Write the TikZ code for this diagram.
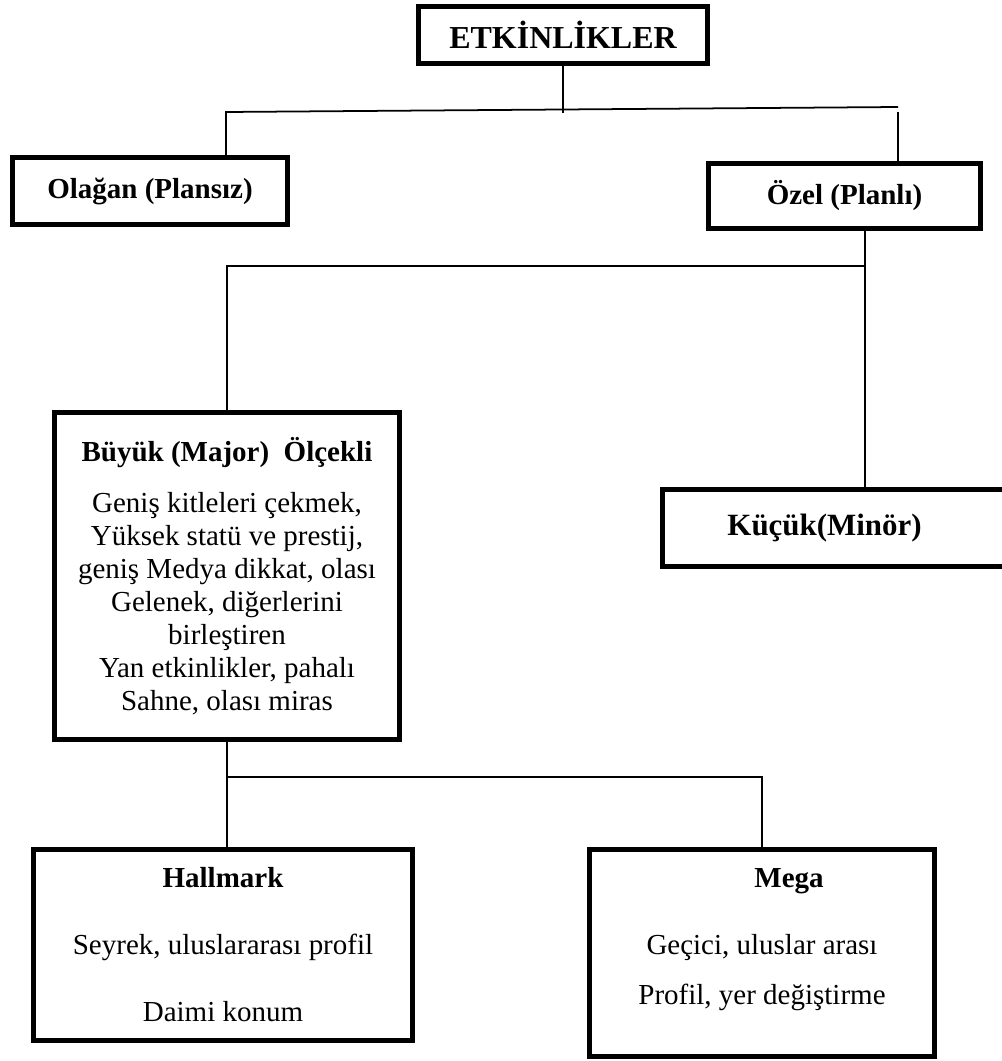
\documentclass[tikz,border=0pt]{standalone}
\usepackage{fontspec}
\setmainfont{Liberation Serif}

\tikzset{
  kutu/.style={draw, line width=0.1cm, inner sep=0pt, align=center,
    font=\fontsize{16.5}{18.8}\selectfont},
  baslik/.style={font=\bfseries\fontsize{16.5}{18.8}\selectfont},
  hat/.style={line width=1pt},
}

\begin{document}
\begin{tikzpicture}[x=0.02cm, y=-0.02cm]
\useasboundingbox (0,0) rectangle (1001,1061);

% kutular
\node[kutu, baslik, font=\bfseries\fontsize{18.2}{20}\selectfont,
  minimum width=5.78cm, minimum height=1.14cm] (etk) at (563,35) {ETKİNLİKLER};
\node[kutu, baslik, minimum width=5.52cm, minimum height=1.34cm] (olagan) at (150,191) {Olağan (Plansız)};
\node[kutu, baslik, minimum width=5.44cm, minimum height=1.30cm] (ozel) at (844.5,196) {Özel (Planlı)};
\node[kutu, minimum width=6.9cm, minimum height=6.54cm] (buyuk) at (227,576)
  {\textbf{Büyük (Major)\ \ Ölçekli}\\[0.36cm]
   Geniş kitleleri çekmek,\\ Yüksek statü ve prestij,\\ geniş Medya dikkat, olası\\
   Gelenek, diğerlerini\\ birleştiren\\ Yan etkinlikler, pahalı\\ Sahne, olası miras};
\node[kutu, baslik, font=\bfseries\fontsize{17.6}{20}\selectfont,
  minimum width=7.2cm, minimum height=1.54cm] (kucuk) at (842.5,528) {Küçük(Minör)\hspace*{0.72cm}};
\node[kutu, minimum width=7.58cm, minimum height=3.82cm] (hallmark) at (223,945)
  {\textbf{Hallmark}\\[0.68cm] Seyrek, uluslararası profil\\[0.68cm] Daimi konum};
\node[kutu, minimum width=6.89cm, minimum height=4.14cm] (mega) at (762,953)
  {\hspace*{1.08cm}\textbf{Mega}\\[0.68cm] Geçici, uluslar arası\\[0.34cm] Profil, yer değiştirme\\ \mbox{}};

% baglantilar
\coordinate (solUst) at (226,112);
\coordinate (sagUst) at (898,107);
\draw[hat] (etk.south) -- ++(0,47);
\draw[hat] (olagan.north -| solUst) -- (solUst) -- (sagUst);
\draw[hat] (ozel.north -| sagUst) -- ++(0,-49);

\coordinate (ozelAlt) at (865,266);
\draw[hat] (ozel.south -| ozelAlt) -- (kucuk.north -| ozelAlt);
\draw[hat] (ozelAlt) -| (buyuk.north);

\coordinate (buyukAlt) at (227,777);
\draw[hat] (buyuk.south) -- (hallmark.north -| buyuk.south);
\draw[hat] (buyukAlt) -| (mega.north);
\end{tikzpicture}
\end{document}
